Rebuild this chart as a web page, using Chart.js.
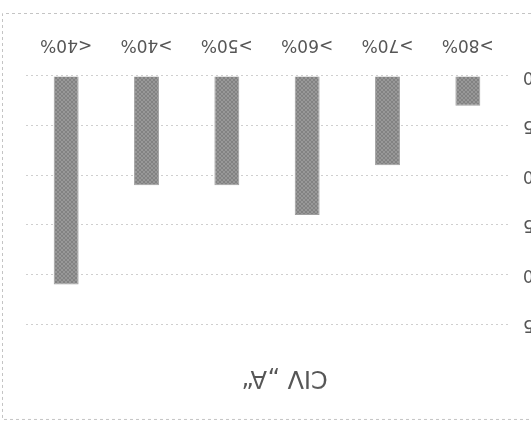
<!DOCTYPE html>
<html>
<head>
<meta charset="utf-8">
<title>CIV „A“</title>
<script src="https://cdn.jsdelivr.net/npm/chart.js@4.4.1/dist/chart.umd.min.js"></script>
<style>
  html, body { margin: 0; padding: 0; background: #fff; overflow: hidden; }
  /* the whole chart is shown turned upside down */
  #wrap {
    position: absolute; left: 0; top: 0;
    width: 531px; height: 425px;
    overflow: hidden;
    transform: rotate(180deg);
  }
  #chart { position: absolute; left: -12px; top: 0; }
</style>
</head>
<body>
<div id="wrap">
  <canvas id="chart" width="543" height="425"></canvas>
</div>
<script>
// Chart data
const title = 'CIV „A“';
const categories = ['>80%', '>70%', '>60%', '>50%', '>40%', '<40%'];
const values = [3, 9, 14, 11, 11, 21];
const yMax = 25;
const yStep = 5;

const textColor = '#565656';
const font = 'DejaVu Sans, Verdana, sans-serif';

// grey dithered fill for the bars
function barPattern() {
  const c = document.createElement('canvas');
  c.width = 4;
  c.height = 4;
  const g = c.getContext('2d');
  g.fillStyle = '#989898';
  g.fillRect(0, 0, 4, 4);
  g.fillStyle = '#828282';
  g.fillRect(0, 0, 2, 2);
  g.fillRect(2, 2, 2, 2);
  return g.createPattern(c, 'repeat');
}

// faint dashed frame around the chart
const frame = {
  id: 'frame',
  beforeDraw(chart) {
    const ctx = chart.ctx;
    ctx.save();
    ctx.strokeStyle = '#c4c4c4';
    ctx.lineWidth = 1;
    ctx.setLineDash([3, 3]);
    ctx.strokeRect(-10, 5.5, chart.width - 2.5 + 10, 406);
    ctx.restore();
  }
};

const ctx = document.getElementById('chart').getContext('2d');

new Chart(ctx, {
  type: 'bar',
  data: {
    labels: categories,
    datasets: [{
      data: values,
      backgroundColor: barPattern(),
      borderColor: 'rgba(95,95,95,0.6)',
      borderWidth: 1,
      categoryPercentage: 1,
      barPercentage: 0.31
    }]
  },
  options: {
    responsive: false,
    animation: false,
    layout: { padding: { left: 0, right: 26, top: 0, bottom: 0 } },
    plugins: {
      legend: { display: false },
      tooltip: { enabled: false },
      title: {
        display: true,
        text: title,
        color: textColor,
        font: { family: font, size: 24, weight: 'normal' },
        padding: { top: 33, bottom: 39 }
      }
    },
    scales: {
      x: {
        grid: { display: false },
        border: { display: false },
        ticks: {
          color: textColor,
          font: { family: font, size: 17 },
          padding: 13,
          maxRotation: 0
        },
        afterFit(scale) { scale.height = 76; }
      },
      y: {
        min: 0,
        max: yMax,
        grid: {
          color: '#cfcfcf',
          drawTicks: false
        },
        border: { display: false, dash: [2, 3] },
        ticks: {
          stepSize: yStep,
          color: textColor,
          font: { family: font, size: 17 },
          padding: 15
        },
        afterFit(scale) { scale.width = 35; }
      }
    }
  },
  plugins: [frame]
});
</script>
</body>
</html>
